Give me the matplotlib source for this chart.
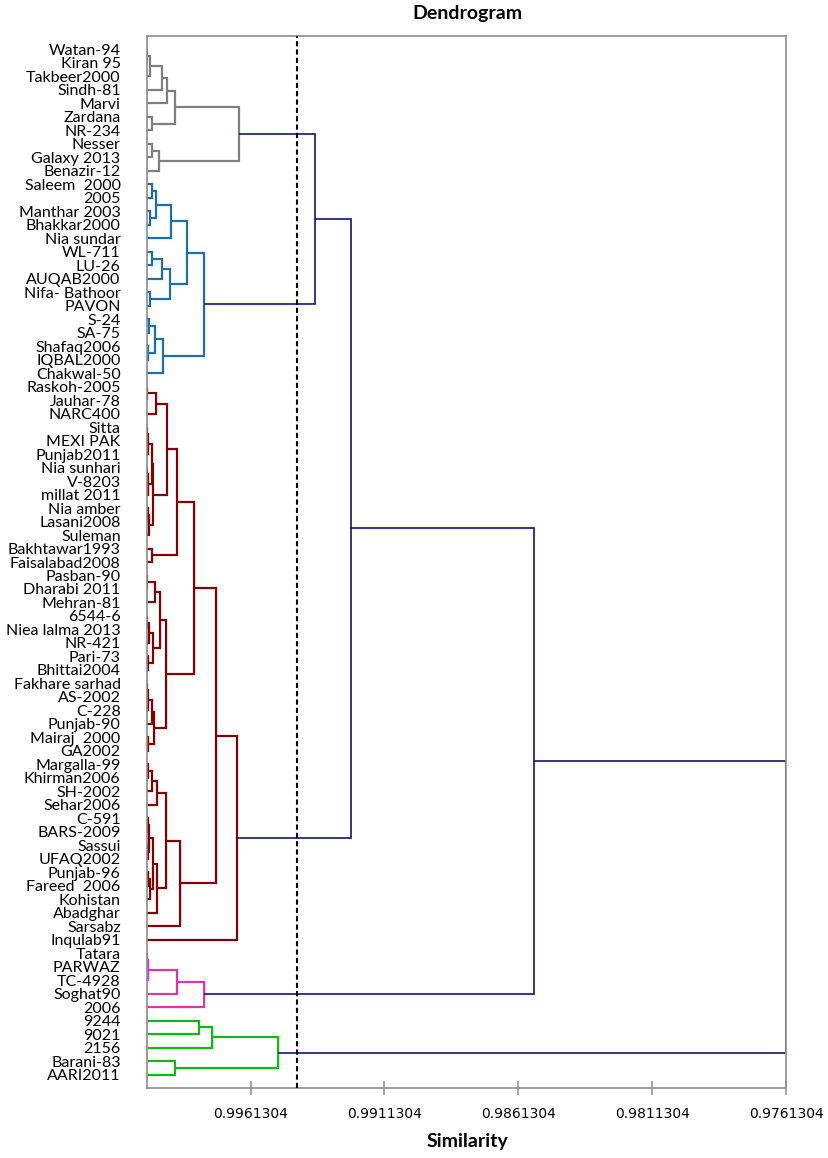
import matplotlib
matplotlib.use("Agg")
import matplotlib.pyplot as plt

# leaf labels, top to bottom
labels = [
    "Watan-94", "Kiran 95", "Takbeer2000", "Sindh-81", "Marvi", "Zardana", "NR-234",
    "Nesser", "Galaxy 2013", "Benazir-12",
    "Saleem  2000", "2005", "Manthar 2003", "Bhakkar2000", "Nia sundar", "WL-711",
    "LU-26", "AUQAB2000", "Nifa- Bathoor", "PAVON", "S-24", "SA-75", "Shafaq2006",
    "IQBAL2000", "Chakwal-50",
    "Raskoh-2005", "Jauhar-78", "NARC400", "Sitta", "MEXI PAK", "Punjab2011",
    "Nia sunhari", "V-8203", "millat 2011", "Nia amber", "Lasani2008", "Suleman",
    "Bakhtawar1993", "Faisalabad2008", "Pasban-90", "Dharabi 2011", "Mehran-81",
    "6544-6", "Niea lalma 2013", "NR-421", "Pari-73", "Bhittai2004", "Fakhare sarhad",
    "AS-2002", "C-228", "Punjab-90", "Mairaj  2000", "GA2002", "Margalla-99",
    "Khirman2006", "SH-2002", "Sehar2006", "C-591", "BARS-2009", "Sassui", "UFAQ2002",
    "Punjab-96", "Fareed  2006", "Kohistan", "Abadghar", "Sarsabz", "Inqulab91",
    "Tatara", "PARWAZ", "TC-4928", "Soghat90", "2006",
    "9244", "9021", "2156", "Barani-83", "AARI2011",
]

# merges: (left, right, similarity); ints point to earlier merges
merges = [
    ("Watan-94", "Kiran 95", 0.99999),          # 0
    (0, "Takbeer2000", 0.99989),
    (1, "Sindh-81", 0.99945),
    (2, "Marvi", 0.99927),
    ("Zardana", "NR-234", 0.99983),
    (3, 4, 0.99896),                            # 5
    ("Nesser", "Galaxy 2013", 0.99983),
    (6, "Benazir-12", 0.99954),
    (5, 7, 0.99657),                            # 8 grey
    ("Saleem  2000", "2005", 0.99983),
    ("Manthar 2003", "Bhakkar2000", 0.99989),   # 10
    (9, 10, 0.99968),
    (11, "Nia sundar", 0.99911),
    ("WL-711", "LU-26", 0.99983),
    (13, "AUQAB2000", 0.99945),
    ("Nifa- Bathoor", "PAVON", 0.99989),        # 15
    (14, 15, 0.99914),
    (12, 16, 0.99852),
    ("S-24", "SA-75", 0.99993),
    ("Shafaq2006", "IQBAL2000", 0.99997),
    (18, 19, 0.99970),                          # 20
    (20, "Chakwal-50", 0.99939),
    (17, 21, 0.99788),                          # 22 blue
    (8, 22, 0.99373),
    ("Raskoh-2005", "Jauhar-78", 0.99999),
    (24, "NARC400", 0.99968),                   # 25
    ("Sitta", "MEXI PAK", 0.99999),
    (26, "Punjab2011", 0.99997),
    ("Nia sunhari", "V-8203", 0.99999),
    (28, "millat 2011", 0.99997),
    (27, 29, 0.99983),                          # 30
    ("Nia amber", "Lasani2008", 0.99998),
    (31, "Suleman", 0.99991),
    (30, 32, 0.99977),
    (25, 33, 0.99924),
    ("Bakhtawar1993", "Faisalabad2008", 0.99983),  # 35
    (34, 35, 0.99887),
    ("Pasban-90", "Dharabi 2011", 0.99999),
    (37, "Mehran-81", 0.99970),
    ("6544-6", "Niea lalma 2013", 0.99999),
    (39, "NR-421", 0.99991),                    # 40
    ("Pari-73", "Bhittai2004", 0.99998),
    (40, 41, 0.99977),
    (38, 42, 0.99952),
    ("Fakhare sarhad", "AS-2002", 0.99999),
    (44, "C-228", 0.99996),                     # 45
    (45, "Punjab-90", 0.99983),
    ("Mairaj  2000", "GA2002", 0.99997),
    (46, 47, 0.99974),
    (43, 48, 0.99930),
    (36, 49, 0.99824),                          # 50
    ("Margalla-99", "Khirman2006", 0.99998),
    (51, "SH-2002", 0.99983),
    (52, "Sehar2006", 0.99962),
    ("C-591", "BARS-2009", 0.99998),
    ("Sassui", "UFAQ2002", 0.99996),            # 55
    (54, 55, 0.99991),
    ("Punjab-96", "Fareed  2006", 0.99996),
    (57, "Kohistan", 0.99990),
    (56, 58, 0.99977),
    (59, "Abadghar", 0.99964),                  # 60
    (53, 60, 0.99930),
    (61, "Sarsabz", 0.99875),
    (50, 62, 0.99741),
    (63, "Inqulab91", 0.99664),                 # 64 maroon
    (23, 64, 0.99237),                          # 65
    ("Tatara", "PARWAZ", 0.99999),
    (66, "TC-4928", 0.99998),
    (67, "Soghat90", 0.99889),
    (68, "2006", 0.99788),                      # 69 pink
    (65, 69, 0.98553),                          # 70
    ("9244", "9021", 0.99806),
    (71, "2156", 0.99757),
    ("Barani-83", "AARI2011", 0.99896),
    (72, 73, 0.99511),                          # 74 green
    (70, 74, 0.9761304),                        # 75 root
]

cluster_colors = {8: "#7f7f7f", 22: "#1f6fa6", 64: "#7f0000", 69: "#d63aa5", 74: "#12b812"}
top_color = "#141478"
cut_level = 0.99439
xticks = [0.9961304, 0.9911304, 0.9861304, 0.9811304, 0.9761304]


def node_pos(ref, placed):
    if isinstance(ref, str):
        return labels.index(ref), 1.0
    return placed[ref]


def main():
    fig = plt.figure(figsize=(8.29, 11.58), dpi=100, facecolor="white")
    ax = fig.add_axes([147 / 829, 1 - 1088 / 1158, (786 - 147) / 829, (1088 - 36) / 1158])

    placed = {}
    for k, (a, b, s) in enumerate(merges):
        ya, ha = node_pos(a, placed)
        yb, hb = node_pos(b, placed)
        placed[k] = ((ya + yb) / 2, s)

    # colour of each merge: inherited from the cluster it sits in
    colors = {}
    def paint(k, col):
        col = cluster_colors.get(k, col)
        colors[k] = col
        for ref in merges[k][:2]:
            if not isinstance(ref, str):
                paint(ref, col)
    paint(len(merges) - 1, top_color)

    for k, (a, b, s) in enumerate(merges):
        ya, ha = node_pos(a, placed)
        yb, hb = node_pos(b, placed)
        col = colors[k]
        lw = 1.2 if col == top_color else 1.6
        ax.plot([ha, s, s, hb], [ya, ya, yb, yb], color=col, lw=lw,
                solid_joinstyle="miter", solid_capstyle="butt", zorder=2)

    ax.axvline(cut_level, color="black", lw=1.5, ls=(0, (2.5, 1.5)), zorder=3)

    ax.set_xlim(1.0, 0.9761304)
    ax.set_ylim(77, -1)
    ax.set_xticks(xticks)
    ax.set_xticklabels(["%.7f" % t for t in xticks], fontsize=10, family="DejaVu Sans")
    ax.set_yticks(range(len(labels)))
    ax.set_yticklabels(labels, fontsize=11.5, family="Lato")
    ax.tick_params(axis="y", length=0, pad=19)
    ax.tick_params(axis="x", direction="inout", length=10, width=1.1, color="#8c8c8c", pad=9)
    for sp in ax.spines.values():
        sp.set_color("#8c8c8c")
        sp.set_linewidth(1.2)

    fig.text(467 / 829, 1 - 13 / 1158, "Dendrogram", ha="center", va="center",
             fontsize=14, fontweight="bold", family="Lato")
    fig.text(467 / 829, 1 - 1141 / 1158, "Similarity", ha="center", va="center",
             fontsize=14, fontweight="bold", family="Lato")

    fig.savefig("out.png", dpi=100)


if __name__ == "__main__":
    main()
